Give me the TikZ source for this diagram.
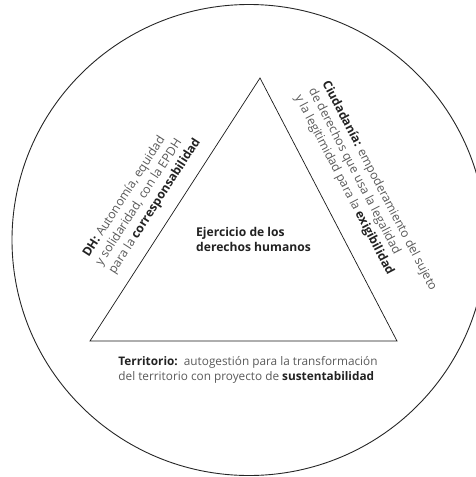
\documentclass[tikz,border=0pt]{standalone}
\usepackage{fontspec}
\setmainfont{Open Sans}
\definecolor{lighttext}{HTML}{5A5A5A}
\definecolor{boldtext}{HTML}{222222}
\begin{document}
\begin{tikzpicture}[x=1pt,y=-1pt,
  label/.style={font=\fontsize{11.8}{14.6}\selectfont, text=lighttext, inner sep=0pt},
  sidelabel/.style={font=\fontsize{12.2}{15.4}\selectfont, text=lighttext, inner sep=0pt},
  centertext/.style={font=\fontsize{12.1}{14.4}\selectfont\bfseries, text=boldtext, inner sep=0pt, align=left}]
\useasboundingbox (0,0) rectangle (476,477);
\clip (0,0) rectangle (476,477);
\draw[line width=0.9pt, black!85] (249,240) ellipse [x radius=237, y radius=235.5];
\coordinate (A) at (260,78);
\coordinate (B) at (90,341);
\coordinate (C) at (397,341);
\draw[line width=0.7pt, black!90] (A) -- (B) -- (C) -- cycle;
\node[centertext, anchor=west] (center) at (196,239.5) {Ejercicio de los\\derechos humanos};
\node[sidelabel, align=left, rotate=57.1] (dh) at (142,198)
  {\textcolor{boldtext}{\textbf{DH:}} Autonomía, equidad\\y solidaridad, con la EPDH\\para la \textcolor{boldtext}{\textbf{corresponsabilidad}}};
\node[sidelabel, align=left, rotate=-62.5] (ciu) at (365.5,193)
  {\textcolor{boldtext}{\textbf{Ciudadanía:}} empoderamiento del sujeto\\de derechos que usa la legalidad\\y la legitimidad para la \textcolor{boldtext}{\textbf{exigibilidad}}};
\node[label, align=left] (terr) at (248,370)
  {\textcolor{boldtext}{\textbf{Territorio:}}\ \ autogestión para la transformación\\del territorio con proyecto de \textcolor{boldtext}{\textbf{sustentabilidad}}};
\end{tikzpicture}
\end{document}
